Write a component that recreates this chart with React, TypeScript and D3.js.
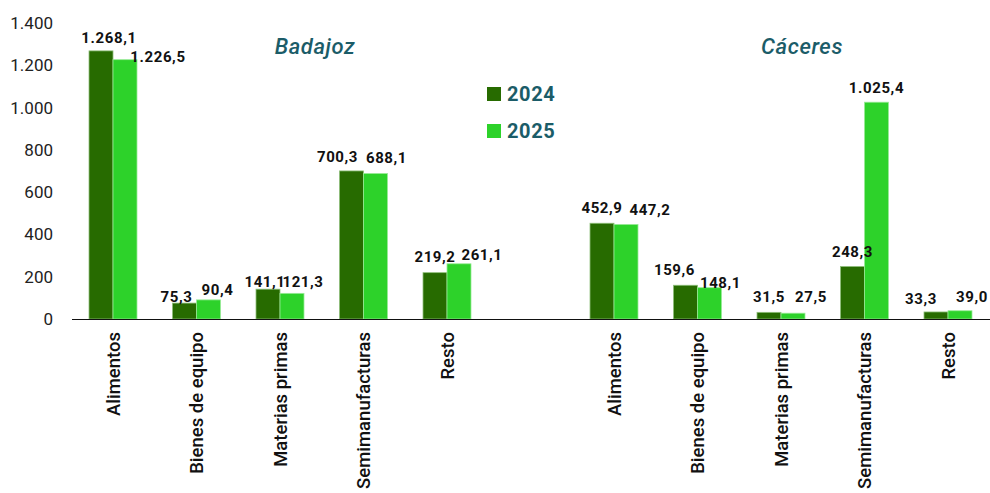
import React from "react";
import * as d3 from "d3";

// categorías y valores (millones de euros)
const categorias = ["Alimentos", "Bienes de equipo", "Materias primas", "Semimanufacturas", "Resto"];
const provincias = ["Badajoz", "Cáceres"];
const series = ["2024", "2025"];

const badajoz2024 = [1268.1, 75.3, 141.1, 700.3, 219.2];
const badajoz2025 = [1226.5, 90.4, 121.3, 688.1, 261.1];
const caceres2024 = [452.9, 159.6, 31.5, 248.3, 33.3];
const caceres2025 = [447.2, 148.1, 27.5, 1025.4, 39.0];

const yTicks = [0, 200, 400, 600, 800, 1000, 1200, 1400];

// ajustes manuales de las etiquetas (como en el original)
const labelDx: Record<string, number[][]> = {
  Badajoz: [[8, -8, -3, -14, 0], [33, 9, 11, 11, 23]],
  "Cáceres": [[0, -11, 0, 0, -15], [24, 11, 18, 0, 12]],
};
const labelGap: Record<string, number[][]> = {
  Badajoz: [[8, 1, 2, 9, 11], [-2, 5, 6, 11, 4]],
  "Cáceres": [[10, 10, 10, 10, 8], [9, 0, 11, 9, 9]],
};

const colors = ["#276B00", "#2DD22A"];
const outline = ["#8fbf7a", "#98ea96"];
const teal = "#1B5C68";

const W = 990;
const H = 493;

const loc = d3.formatLocale({ decimal: ",", thousands: ".", grouping: [3], currency: ["", "€"] });
const fmtLabel = loc.format(",.1f");
const fmtTick = loc.format(",d");

export default function App() {
  const slots = [
    ...categorias.map((c) => `Badajoz|${c}`),
    "gap",
    ...categorias.map((c) => `Cáceres|${c}`),
  ];

  const x = d3.scaleBand<string>().domain(slots).range([71.25, 989.75]).padding(0);
  const xInner = d3.scaleBand<string>().domain(series).range([0, x.bandwidth()]).paddingInner(0).paddingOuter(0.74);
  const y = d3.scaleLinear().domain([0, 1400]).range([319, 23]);

  const data: Record<string, number[][]> = {
    Badajoz: [badajoz2024, badajoz2025],
    "Cáceres": [caceres2024, caceres2025],
  };

  const bars = provincias.flatMap((p) =>
    categorias.flatMap((c, i) =>
      series.map((s, si) => {
        const v = data[p][si][i];
        const x0 = (x(`${p}|${c}`) ?? 0) + (xInner(s) ?? 0);
        return { key: `${p}-${c}-${s}`, p, c, s, si, i, v, x0 };
      })
    )
  );

  const groupCenter = (p: string) => {
    const first = x(`${p}|${categorias[0]}`) ?? 0;
    const last = (x(`${p}|${categorias[categorias.length - 1]}`) ?? 0) + x.bandwidth();
    return (first + last) / 2;
  };

  return (
    <svg width={W} height={H} style={{ position: "absolute", left: 0, top: 0, background: "#fff" }} fontFamily="Roboto, sans-serif">
      {/* eje Y */}
      {yTicks.map((t) => (
        <text key={t} x={53} y={y(t)} dy="0.35em" textAnchor="end" fontSize={17} fill="#222">
          {fmtTick(t)}
        </text>
      ))}

      {/* barras */}
      {bars.map((b) => (
        <rect
          key={b.key}
          x={b.x0}
          y={y(b.v)}
          width={xInner.bandwidth()}
          height={y(0) - y(b.v)}
          fill={colors[b.si]}
          stroke={outline[b.si]}
          strokeWidth={0.8}
        />
      ))}

      {/* eje X */}
      <line x1={72} x2={990} y1={y(0) + 0.5} y2={y(0) + 0.5} stroke="#111" strokeWidth={1.2} />

      {/* etiquetas de valor */}
      {bars.map((b) => (
        <text
          key={`l-${b.key}`}
          x={b.x0 + xInner.bandwidth() / 2 + labelDx[b.p][b.si][b.i]}
          y={y(b.v) - labelGap[b.p][b.si][b.i]}
          textAnchor="middle"
          fontSize={15}
          fontWeight={700}
          letterSpacing={0.6}
          fill="#111"
        >
          {fmtLabel(b.v)}
        </text>
      ))}

      {/* categorías */}
      {provincias.flatMap((p) =>
        categorias.map((c) => {
          const cx = (x(`${p}|${c}`) ?? 0) + x.bandwidth() / 2;
          return (
            <text
              key={`c-${p}-${c}`}
              transform={`translate(${cx + 6.5},332) rotate(-90)`}
              textAnchor="end"
              fontSize={18.5}
              fontWeight={500}
              fill="#111"
            >
              {c}
            </text>
          );
        })
      )}

      {/* títulos de provincia */}
      {provincias.map((p, i) => (
        <text
          key={`t-${p}`}
          x={groupCenter(p) + (i === 0 ? 35 : 21)}
          y={54}
          textAnchor="middle"
          fontSize={22}
          fontWeight={500}
          fontStyle="italic"
          letterSpacing={0.6}
          fill={teal}
        >
          {p}
        </text>
      ))}

      {/* leyenda */}
      {series.map((s, i) => (
        <g key={`lg-${s}`} transform={`translate(487,${87 + i * 37})`}>
          <rect width={14} height={14} fill={colors[i]} />
          <text x={20} y={7} dy="0.36em" fontSize={20} fontWeight={700} letterSpacing={0.6} fill={teal}>
            {s}
          </text>
        </g>
      ))}
    </svg>
  );
}
